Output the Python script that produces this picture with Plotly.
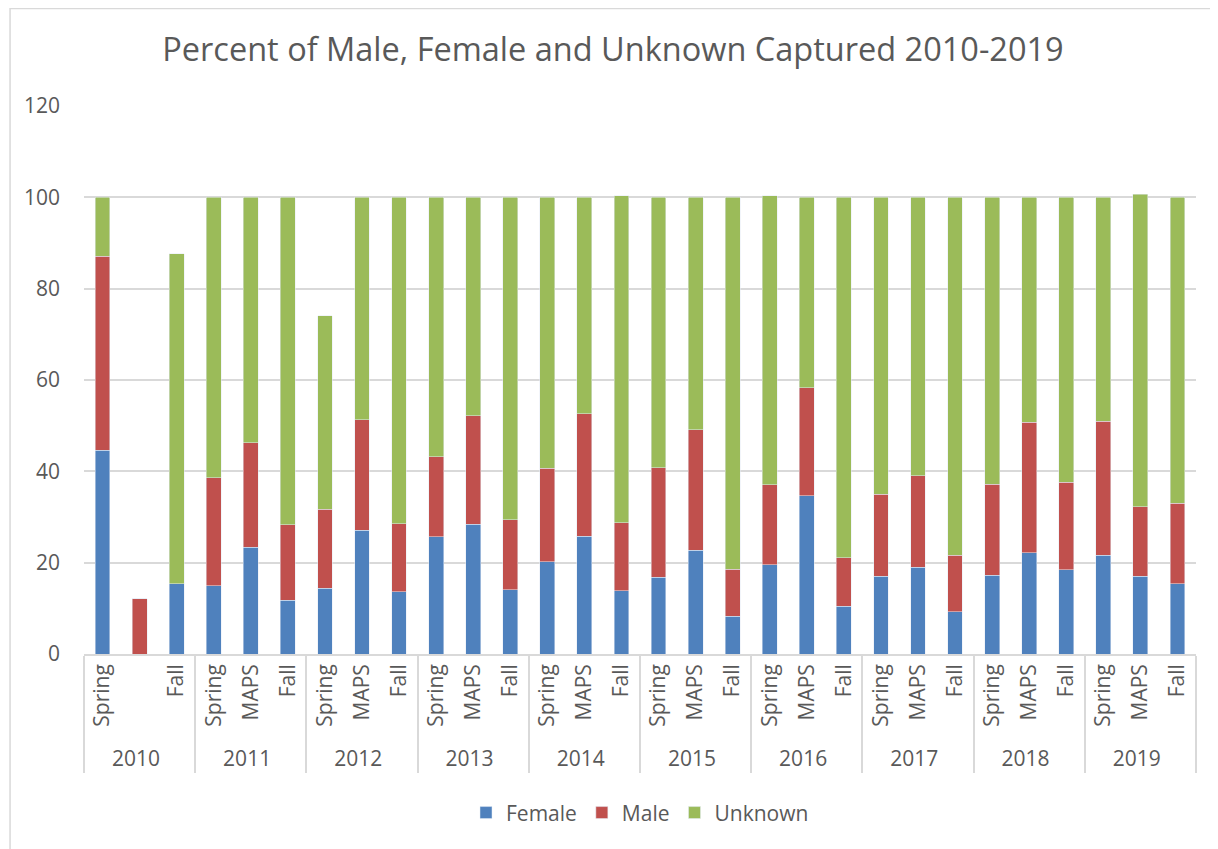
import plotly.graph_objects as go

years = ["2010", "2011", "2012", "2013", "2014", "2015", "2016", "2017", "2018", "2019"]
seasons = ["Spring", "MAPS", "Fall"]

# one value per bar, in order year by year: Spring, MAPS, Fall
female = [44.6, 0, 15.4,
          15.0, 23.4, 11.8,
          14.4, 27.1, 13.6,
          25.7, 28.4, 14.1,
          20.2, 25.8, 13.9,
          16.8, 22.7, 8.3,
          19.5, 34.6, 10.5,
          17.0, 19.0, 9.3,
          17.2, 22.2, 18.4,
          21.6, 17.0, 15.4]
male = [42.5, 12.1, 0,
        23.6, 22.9, 16.5,
        17.3, 24.2, 14.9,
        17.5, 23.8, 15.3,
        20.5, 26.8, 14.8,
        24.0, 26.4, 10.3,
        17.6, 23.7, 10.6,
        18.0, 20.0, 12.3,
        20.0, 28.5, 19.2,
        29.4, 15.3, 17.6]
unknown = [12.9, 0, 72.3,
           61.4, 53.7, 71.7,
           42.4, 48.7, 71.5,
           56.8, 47.8, 70.6,
           59.3, 47.4, 71.7,
           59.2, 50.9, 81.4,
           63.3, 41.7, 78.9,
           65.0, 61.0, 78.4,
           62.8, 49.3, 62.4,
           49.0, 68.4, 67.0]

outer = [y for y in years for s in seasons]
inner = [" " if (y == "2010" and s == "MAPS") else s for y in years for s in seasons]
x = [outer, inner]

grey = "#595959"
fig = go.Figure()
# invisible helper so plotly orders the inner labels Spring, MAPS, Fall
# (2010 has no MAPS label, which would otherwise push MAPS after Fall)
fig.add_trace(go.Scatter(x=[["2010", "2011"], ["Spring", "MAPS"]], y=[0, 0], mode="markers",
                         marker=dict(opacity=0), showlegend=False, hoverinfo="skip"))
fig.add_trace(go.Bar(x=x, y=female, name="Female", marker_color="#4F81BD"))
fig.add_trace(go.Bar(x=x, y=male, name="Male", marker_color="#C0504D"))
fig.add_trace(go.Bar(x=x, y=unknown, name="Unknown", marker_color="#9BBB59"))

fig.update_layout(
    barmode="stack",
    bargap=0.6,
    width=1210, height=841,
    margin=dict(l=76, r=22, t=98, b=195),
    paper_bgcolor="white", plot_bgcolor="white",
    font=dict(family="Open Sans", color=grey, size=20),
    title=dict(text="Percent of Male, Female and Unknown Captured 2010-2019",
               x=0.5, xanchor="center", y=0.95, yanchor="middle",
               font=dict(size=32.5, color=grey)),
    legend=dict(orientation="h", x=0.5, xanchor="center", y=-0.29, yanchor="middle",
                font=dict(size=21, color=grey), traceorder="normal"),
    showlegend=True,
)
fig.update_yaxes(range=[0, 120], dtick=20, showgrid=True, gridcolor="#d9d9d9", gridwidth=1.5,
                 zeroline=False, ticks="", ticklabelstandoff=23, automargin=False,
                 tickfont=dict(size=21, color=grey))
fig.update_xaxes(type="multicategory", range=[-0.5, len(outer) - 0.5], tickangle=-90,
                 showline=True, linecolor="#d9d9d9", linewidth=1.5,
                 showdividers=True, dividercolor="#d9d9d9", dividerwidth=1.5, automargin=False,
                 tickfont=dict(size=21, color=grey))

# light frame round the whole chart
fig.add_shape(type="rect", xref="paper", yref="paper",
              x0=-0.0665, x1=1.03, y0=-0.36, y1=1.178,
              line=dict(color="#d9d9d9", width=1.5), fillcolor="rgba(0,0,0,0)", layer="below")

fig.write_html("out.html")
